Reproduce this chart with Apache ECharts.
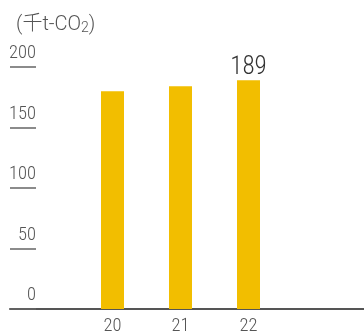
<!DOCTYPE html>
<html>
<head>
<meta charset="utf-8">
<script src="https://cdn.jsdelivr.net/npm/echarts@6/dist/echarts.min.js"></script>
<style>
  html, body { margin: 0; padding: 0; background: #fff; }
  #chart { width: 364px; height: 335px; }
</style>
</head>
<body>
<div id="chart"></div>
<script>
// Emissions by fiscal year (thousand t-CO2)
const years = ['20', '21', '22'];
const emissions = [180, 184, 189];
const yTicks = [0, 50, 100, 150, 200];
const unitLabel = '(千t-CO{sub|2})';

// light, condensed face; "condensed" rides along in the canvas font shorthand
const FONT = 'Roboto, "Noto Sans CJK JP", sans-serif';
const WEIGHT = '300 condensed';
const TEXT = '#555';

const chart = echarts.init(document.getElementById('chart'), null, { renderer: 'canvas' });

chart.setOption({
  animation: false,
  title: {
    text: unitLabel,
    left: 11,
    top: 10,
    textStyle: {
      fontFamily: FONT,
      fontSize: 20,
      fontWeight: '300',
      color: TEXT,
      rich: {
        sub: { fontFamily: FONT, fontSize: 14, fontWeight: '300', color: TEXT, verticalAlign: 'bottom', padding: [7, 0, 0, 0] }
      }
    }
  },
  grid: [
    // frame grid: scale ticks and full-width baseline
    { left: 10, right: 0, top: 67, bottom: 26, outerBoundsMode: 'none', containLabel: false },
    // bar grid
    { left: 78.5, right: 81.5, top: 67, bottom: 26, outerBoundsMode: 'none', containLabel: false }
  ],
  xAxis: [
    {
      gridIndex: 0,
      type: 'category',
      data: years,
      axisLine: { show: true, lineStyle: { color: '#555', width: 2 } },
      axisTick: { show: false },
      axisLabel: { show: false },
      splitLine: { show: false }
    },
    {
      gridIndex: 1,
      type: 'category',
      data: years,
      axisLine: { show: false },
      axisTick: { show: false },
      axisLabel: {
        margin: 8,
        fontFamily: FONT,
        fontSize: 18.5,
        fontWeight: WEIGHT,
        color: TEXT
      }
    }
  ],
  yAxis: [
    {
      gridIndex: 0,
      type: 'value',
      min: yTicks[0],
      max: yTicks[yTicks.length - 1],
      interval: 50,
      axisLine: { show: false },
      axisTick: { show: true, inside: true, length: 26, lineStyle: { color: '#666', width: 1.5 } },
      splitLine: { show: false },
      axisLabel: {
        inside: true,
        margin: 26,
        align: 'right',
        verticalAlign: 'bottom',
        padding: [0, 0, 4, 0],
        fontFamily: FONT,
        fontSize: 18.5,
        fontWeight: WEIGHT,
        color: TEXT
      }
    },
    {
      gridIndex: 1,
      type: 'value',
      min: yTicks[0],
      max: yTicks[yTicks.length - 1],
      interval: 50,
      show: false
    }
  ],
  series: [
    {
      type: 'bar',
      xAxisIndex: 1,
      yAxisIndex: 1,
      data: emissions.map((v, i) => ({
        value: v,
        label: i === emissions.length - 1
          ? { show: true, position: 'top', distance: 0, fontFamily: FONT, fontSize: 25, fontWeight: WEIGHT, color: '#333' }
          : { show: false }
      })),
      barWidth: 23,
      itemStyle: { color: '#F2BE00' }
    }
  ]
});
</script>
</body>
</html>
